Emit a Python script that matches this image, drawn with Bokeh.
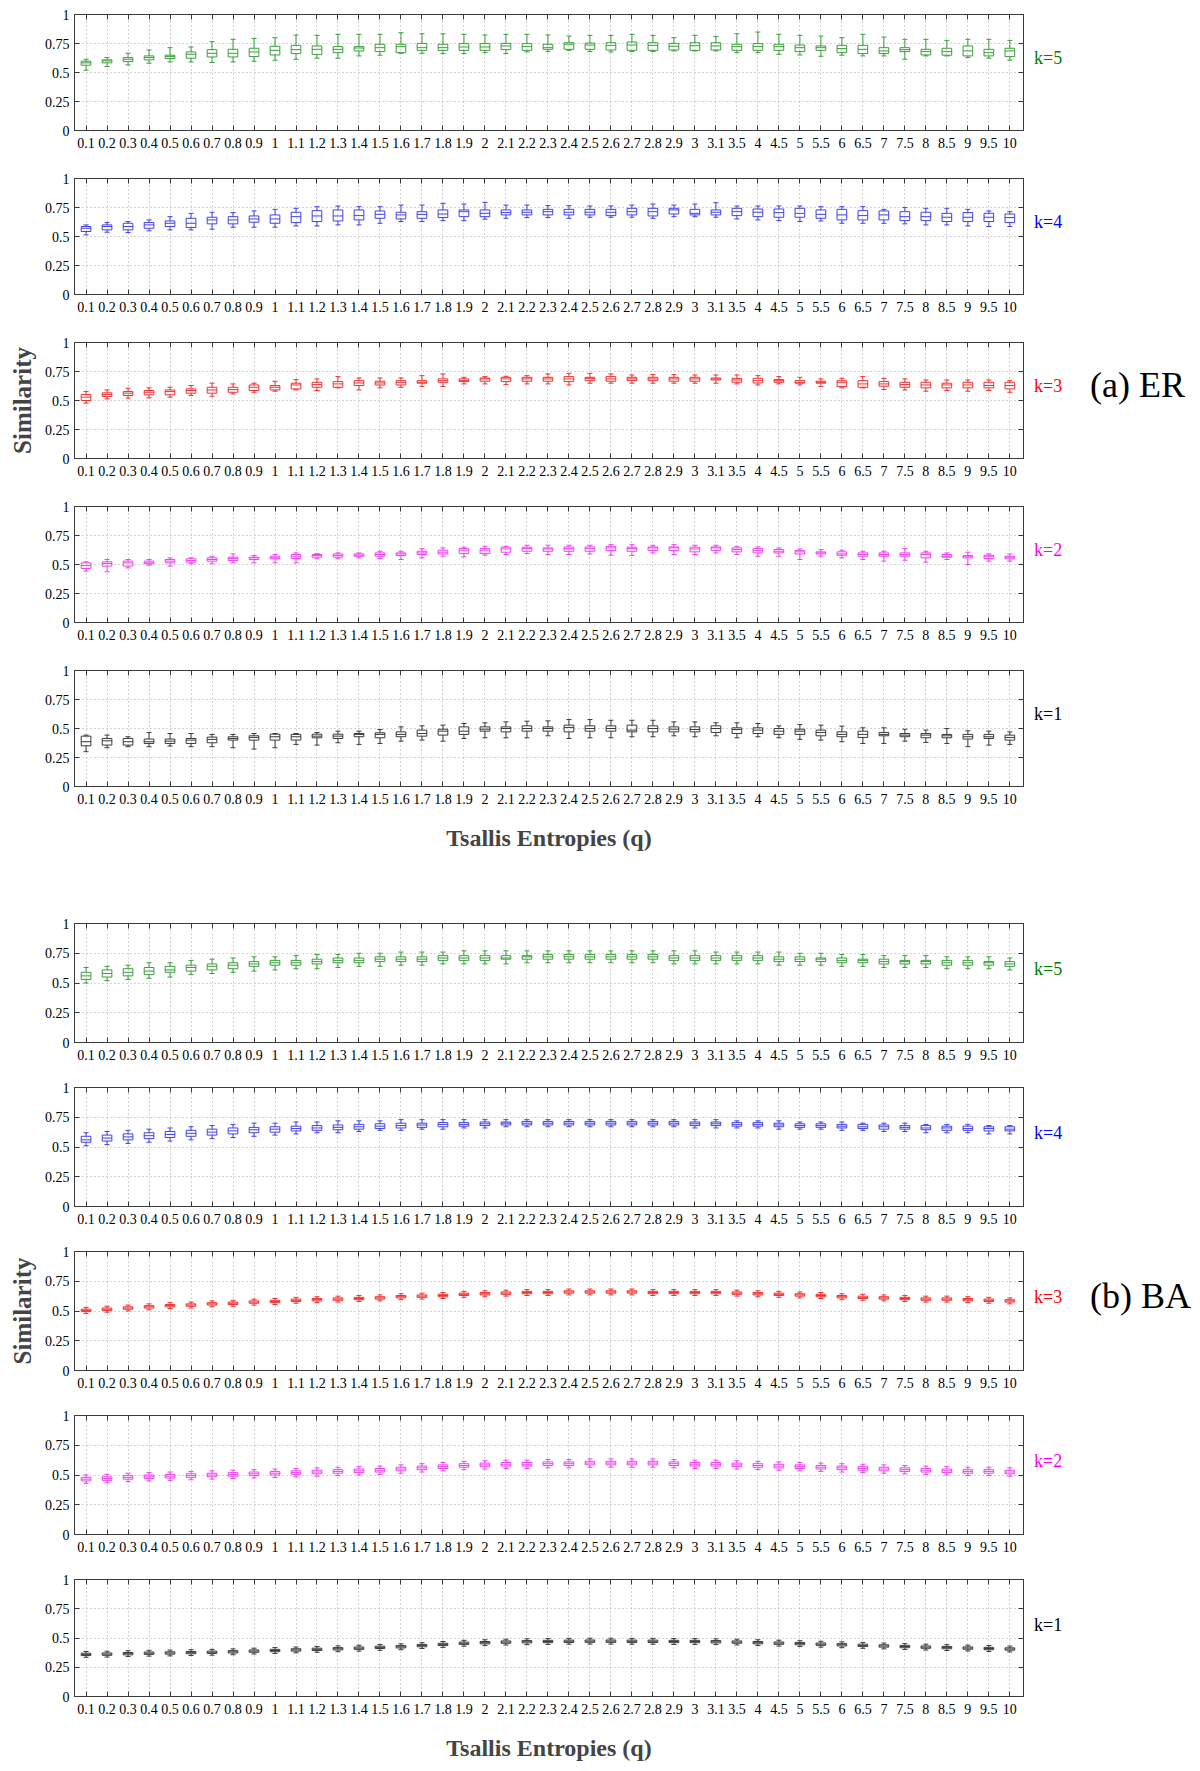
from bokeh.plotting import figure
from bokeh.layouts import column, row
from bokeh.models import Range1d, FixedTicker, LinearAxis, Div
from bokeh.embed import file_html
from bokeh.resources import INLINE

Q_LABELS = ["0.1", "0.2", "0.3", "0.4", "0.5", "0.6", "0.7", "0.8", "0.9", "1",
            "1.1", "1.2", "1.3", "1.4", "1.5", "1.6", "1.7", "1.8", "1.9", "2",
            "2.1", "2.2", "2.3", "2.4", "2.5", "2.6", "2.7", "2.8", "2.9", "3",
            "3.1", "3.5", "4", "4.5", "5", "5.5", "6", "6.5", "7", "7.5",
            "8", "8.5", "9", "9.5", "10"]

# ---------------- (a) ER ----------------
ER5_hi = [0.614,0.629,0.666,0.694,0.714,0.72,0.766,0.786,0.794,0.8, 0.823,0.82,0.829,0.829,0.829,0.843,0.834,0.834,0.829,0.823, 0.829,0.829,0.823,0.814,0.82, 0.82,0.829,0.82,0.8,0.82,0.811, 0.834,0.849,0.829,0.82,0.814,0.8,0.829,0.806,0.786,0.786,0.777,0.786,0.786,0.777]
ER5_q3 = [0.597,0.609,0.629,0.643,0.649,0.677,0.697,0.7,0.709,0.726, 0.734,0.729,0.723,0.723,0.743,0.743,0.751,0.743,0.749,0.749, 0.751,0.749,0.743,0.757,0.754, 0.757,0.763,0.757,0.751,0.757,0.757, 0.743,0.749,0.743,0.737,0.729,0.734,0.734,0.714,0.714,0.7,0.709,0.729,0.7,0.709]
ER5_med = [0.583,0.6,0.614,0.629,0.637,0.657,0.666,0.666,0.677,0.691, 0.697,0.7,0.7,0.711,0.714,0.723,0.714,0.714,0.72,0.72, 0.729,0.723,0.714,0.743,0.737, 0.734,0.737,0.734,0.726,0.731,0.729, 0.723,0.723,0.723,0.714,0.714,0.706,0.7,0.686,0.697,0.68,0.68,0.686,0.671,0.686]
ER5_q1 = [0.563,0.583,0.594,0.609,0.62,0.623,0.634,0.634,0.637,0.651, 0.663,0.654,0.671,0.686,0.68,0.671,0.691,0.691,0.691,0.691, 0.697,0.691,0.7,0.7,0.7, 0.694,0.691,0.691,0.694,0.691,0.694, 0.691,0.691,0.691,0.68,0.691,0.671,0.663,0.663,0.68,0.651,0.649,0.643,0.643,0.637]
ER5_lo = [0.52,0.551,0.566,0.58,0.591,0.591,0.586,0.591,0.597,0.606, 0.614,0.623,0.623,0.643,0.649,0.666,0.666,0.663,0.663,0.671, 0.663,0.677,0.68,0.691,0.68, 0.677,0.68,0.68,0.686,0.686,0.686, 0.671,0.671,0.657,0.651,0.64,0.649,0.643,0.643,0.614,0.643,0.643,0.629,0.623,0.606]

ER4_hi = [0.6,0.62,0.629,0.643,0.671,0.7,0.709,0.706,0.72,0.734, 0.743,0.757,0.763,0.757,0.757,0.771,0.771,0.786,0.78,0.794, 0.771,0.771,0.766,0.766,0.763, 0.763,0.771,0.78,0.771,0.78,0.791, 0.763,0.763,0.763,0.763,0.757,0.757,0.757,0.734,0.749,0.743,0.743,0.734,0.72,0.714]
ER4_q3 = [0.586,0.6,0.614,0.62,0.634,0.657,0.666,0.671,0.677,0.686, 0.709,0.723,0.729,0.729,0.72,0.709,0.714,0.729,0.729,0.729, 0.729,0.729,0.734,0.734,0.734, 0.734,0.743,0.743,0.743,0.734,0.729, 0.743,0.737,0.737,0.743,0.729,0.734,0.723,0.72,0.714,0.709,0.7,0.706,0.7,0.694]
ER4_med = [0.571,0.586,0.586,0.6,0.614,0.614,0.643,0.643,0.651,0.651, 0.671,0.677,0.677,0.68,0.691,0.686,0.691,0.694,0.714,0.7, 0.706,0.709,0.714,0.709,0.709, 0.709,0.714,0.714,0.729,0.7,0.709, 0.714,0.709,0.706,0.7,0.691,0.686,0.68,0.686,0.671,0.671,0.666,0.666,0.666,0.663]
ER4_q1 = [0.543,0.557,0.557,0.571,0.586,0.577,0.609,0.609,0.623,0.614, 0.62,0.629,0.634,0.643,0.657,0.651,0.657,0.663,0.671,0.671, 0.686,0.686,0.686,0.686,0.686, 0.68,0.686,0.677,0.694,0.686,0.686, 0.68,0.671,0.666,0.666,0.657,0.643,0.643,0.643,0.637,0.637,0.629,0.629,0.629,0.62]
ER4_lo = [0.514,0.537,0.534,0.549,0.557,0.557,0.563,0.58,0.58,0.58, 0.591,0.591,0.6,0.6,0.614,0.629,0.629,0.637,0.637,0.649, 0.657,0.663,0.663,0.657,0.666, 0.666,0.666,0.657,0.671,0.671,0.666, 0.651,0.643,0.637,0.629,0.634,0.614,0.614,0.614,0.609,0.6,0.6,0.591,0.586,0.586]

ER3_hi = [0.577,0.591,0.606,0.609,0.614,0.629,0.649,0.643,0.649,0.666, 0.68,0.686,0.706,0.694,0.694,0.694,0.714,0.729,0.7,0.706, 0.709,0.714,0.729,0.734,0.734, 0.729,0.72,0.723,0.723,0.72,0.72, 0.72,0.714,0.706,0.7,0.686,0.691,0.706,0.691,0.686,0.677,0.677,0.677,0.677,0.671]
ER3_q3 = [0.551,0.566,0.577,0.586,0.591,0.6,0.614,0.614,0.634,0.629, 0.649,0.657,0.663,0.671,0.666,0.671,0.671,0.686,0.686,0.694, 0.7,0.7,0.7,0.706,0.7, 0.706,0.7,0.7,0.7,0.7,0.694, 0.691,0.691,0.68,0.671,0.666,0.671,0.671,0.663,0.657,0.657,0.649,0.657,0.657,0.657]
ER3_med = [0.529,0.551,0.563,0.571,0.577,0.586,0.591,0.594,0.614,0.614, 0.634,0.637,0.643,0.651,0.651,0.657,0.657,0.671,0.671,0.686, 0.686,0.686,0.686,0.686,0.691, 0.686,0.686,0.686,0.686,0.686,0.686, 0.677,0.671,0.671,0.657,0.657,0.657,0.643,0.643,0.637,0.634,0.634,0.634,0.629,0.629]
ER3_q1 = [0.5,0.534,0.543,0.549,0.549,0.563,0.563,0.571,0.586,0.591, 0.6,0.614,0.614,0.629,0.634,0.634,0.649,0.657,0.663,0.666, 0.663,0.666,0.666,0.663,0.671, 0.666,0.671,0.671,0.666,0.666,0.677, 0.657,0.651,0.657,0.649,0.649,0.62,0.614,0.623,0.614,0.609,0.609,0.609,0.609,0.6]
ER3_lo = [0.477,0.514,0.52,0.523,0.529,0.543,0.537,0.557,0.571,0.58, 0.591,0.586,0.609,0.591,0.609,0.614,0.62,0.62,0.643,0.643, 0.637,0.643,0.643,0.634,0.649, 0.649,0.649,0.649,0.649,0.649,0.649, 0.643,0.634,0.643,0.634,0.62,0.609,0.609,0.594,0.591,0.58,0.586,0.58,0.586,0.571]

ER2_hi = [0.523,0.543,0.543,0.543,0.557,0.557,0.571,0.591,0.577,0.586, 0.6,0.594,0.6,0.6,0.614,0.614,0.637,0.643,0.649,0.657, 0.657,0.666,0.666,0.666,0.666, 0.671,0.671,0.666,0.671,0.666,0.666, 0.657,0.651,0.643,0.634,0.629,0.623,0.614,0.614,0.637,0.614,0.6,0.606,0.591,0.591]
ER2_q3 = [0.514,0.523,0.529,0.529,0.543,0.549,0.557,0.563,0.563,0.571, 0.586,0.586,0.591,0.591,0.6,0.6,0.614,0.623,0.637,0.637, 0.649,0.649,0.643,0.651,0.651, 0.657,0.649,0.651,0.651,0.649,0.651, 0.643,0.637,0.629,0.62,0.609,0.609,0.6,0.6,0.6,0.6,0.586,0.577,0.58,0.571]
ER2_med = [0.491,0.509,0.514,0.514,0.529,0.534,0.543,0.551,0.557,0.557, 0.571,0.577,0.577,0.58,0.586,0.591,0.6,0.606,0.623,0.623, 0.634,0.637,0.634,0.637,0.637, 0.643,0.637,0.643,0.643,0.634,0.643, 0.629,0.62,0.614,0.609,0.6,0.591,0.586,0.586,0.586,0.586,0.571,0.571,0.571,0.563]
ER2_q1 = [0.466,0.486,0.486,0.506,0.514,0.52,0.529,0.534,0.543,0.549, 0.551,0.563,0.563,0.571,0.571,0.577,0.586,0.591,0.594,0.594, 0.606,0.614,0.614,0.614,0.614, 0.62,0.614,0.62,0.62,0.609,0.62, 0.609,0.6,0.6,0.591,0.591,0.58,0.571,0.571,0.571,0.557,0.563,0.557,0.551,0.549]
ER2_lo = [0.443,0.437,0.471,0.494,0.486,0.506,0.506,0.514,0.514,0.514, 0.514,0.549,0.549,0.557,0.551,0.543,0.557,0.571,0.566,0.58, 0.586,0.594,0.586,0.586,0.591, 0.58,0.577,0.6,0.586,0.586,0.6, 0.586,0.571,0.571,0.543,0.571,0.557,0.543,0.529,0.537,0.52,0.543,0.5,0.529,0.529]

ER1_hi = [0.443,0.443,0.429,0.466,0.457,0.457,0.449,0.449,0.457,0.457, 0.457,0.466,0.477,0.477,0.491,0.514,0.523,0.529,0.543,0.549, 0.557,0.563,0.566,0.577,0.577, 0.571,0.571,0.571,0.557,0.557,0.549, 0.549,0.543,0.523,0.534,0.529,0.52,0.506,0.506,0.494,0.486,0.5,0.48,0.477,0.471]
ER1_q3 = [0.434,0.414,0.414,0.409,0.409,0.414,0.426,0.429,0.437,0.451, 0.449,0.451,0.451,0.457,0.463,0.471,0.486,0.494,0.514,0.514, 0.514,0.523,0.514,0.529,0.523, 0.523,0.529,0.523,0.514,0.514,0.523, 0.506,0.506,0.5,0.494,0.486,0.471,0.477,0.466,0.457,0.457,0.449,0.449,0.449,0.443]
ER1_med = [0.386,0.394,0.386,0.386,0.391,0.4,0.406,0.414,0.423,0.429, 0.429,0.434,0.434,0.449,0.449,0.449,0.457,0.477,0.477,0.494, 0.5,0.5,0.5,0.509,0.5, 0.5,0.486,0.5,0.494,0.491,0.5, 0.491,0.486,0.477,0.477,0.466,0.449,0.449,0.449,0.443,0.443,0.437,0.429,0.429,0.423]
ER1_q1 = [0.351,0.357,0.357,0.371,0.371,0.371,0.377,0.4,0.4,0.4, 0.4,0.42,0.414,0.429,0.42,0.429,0.434,0.443,0.449,0.477, 0.471,0.477,0.477,0.471,0.477, 0.477,0.471,0.471,0.471,0.471,0.466, 0.457,0.457,0.449,0.449,0.437,0.429,0.423,0.437,0.429,0.42,0.42,0.409,0.414,0.4]
ER1_lo = [0.3,0.334,0.343,0.343,0.349,0.343,0.343,0.334,0.323,0.334, 0.363,0.357,0.377,0.363,0.371,0.391,0.4,0.391,0.414,0.42, 0.42,0.42,0.437,0.414,0.42, 0.42,0.429,0.429,0.437,0.429,0.437, 0.42,0.429,0.42,0.406,0.4,0.386,0.371,0.371,0.391,0.38,0.371,0.343,0.357,0.363]

# ---------------- (b) BA ----------------
BA5_hi = [0.63,0.64,0.65,0.67,0.67,0.69,0.70,0.71,0.72,0.72, 0.73,0.74,0.74,0.75,0.75,0.76,0.76,0.76,0.77,0.77, 0.77,0.77,0.77,0.77,0.77, 0.77,0.77,0.77,0.77,0.77,0.76, 0.76,0.76,0.76,0.75,0.75,0.74,0.74,0.73,0.73,0.73,0.72,0.72,0.72,0.71]
BA5_q3 = [0.59,0.61,0.62,0.63,0.64,0.65,0.66,0.67,0.68,0.69, 0.69,0.70,0.71,0.71,0.72,0.72,0.72,0.73,0.73,0.73, 0.73,0.73,0.74,0.74,0.74, 0.74,0.74,0.74,0.73,0.73,0.73, 0.73,0.73,0.72,0.72,0.71,0.71,0.70,0.70,0.69,0.69,0.69,0.69,0.68,0.68]
BA5_med = [0.56,0.58,0.59,0.60,0.61,0.63,0.64,0.65,0.66,0.67, 0.67,0.68,0.69,0.69,0.70,0.70,0.70,0.71,0.71,0.71, 0.71,0.72,0.72,0.72,0.72, 0.72,0.72,0.72,0.71,0.71,0.71, 0.71,0.71,0.70,0.70,0.70,0.69,0.69,0.68,0.68,0.68,0.67,0.67,0.67,0.66]
BA5_q1 = [0.53,0.55,0.56,0.57,0.59,0.60,0.61,0.62,0.64,0.65, 0.65,0.66,0.67,0.67,0.68,0.68,0.68,0.69,0.69,0.69, 0.70,0.70,0.70,0.70,0.70, 0.70,0.70,0.70,0.69,0.69,0.69, 0.69,0.69,0.68,0.68,0.68,0.67,0.67,0.66,0.66,0.66,0.65,0.65,0.65,0.64]
BA5_lo = [0.50,0.52,0.53,0.54,0.55,0.57,0.58,0.59,0.60,0.61, 0.62,0.62,0.63,0.64,0.64,0.65,0.65,0.66,0.66,0.66, 0.66,0.67,0.67,0.67,0.67, 0.67,0.67,0.67,0.66,0.66,0.66, 0.66,0.66,0.65,0.65,0.65,0.64,0.64,0.63,0.63,0.63,0.62,0.62,0.62,0.61]

BA4_hi = [0.62,0.63,0.64,0.65,0.66,0.67,0.68,0.69,0.70,0.70, 0.71,0.71,0.72,0.72,0.72,0.73,0.73,0.73,0.73,0.73, 0.73,0.73,0.73,0.73,0.73, 0.73,0.73,0.73,0.73,0.73,0.73, 0.72,0.72,0.72,0.71,0.71,0.71,0.70,0.70,0.70,0.69,0.69,0.69,0.68,0.68]
BA4_q3 = [0.59,0.60,0.61,0.62,0.63,0.64,0.65,0.66,0.665,0.67, 0.675,0.68,0.685,0.69,0.695,0.70,0.70,0.705,0.705,0.71, 0.71,0.715,0.715,0.715,0.715, 0.715,0.715,0.715,0.715,0.71,0.71, 0.705,0.705,0.70,0.695,0.695,0.69,0.69,0.685,0.68,0.68,0.675,0.675,0.67,0.67]
BA4_med = [0.56,0.575,0.585,0.595,0.605,0.615,0.625,0.635,0.645,0.65, 0.655,0.66,0.665,0.67,0.675,0.68,0.685,0.69,0.69,0.695, 0.70,0.70,0.70,0.70,0.70, 0.70,0.70,0.70,0.70,0.695,0.695, 0.69,0.69,0.685,0.68,0.68,0.675,0.67,0.67,0.665,0.66,0.66,0.655,0.655,0.65]
BA4_q1 = [0.54,0.55,0.56,0.57,0.58,0.59,0.60,0.61,0.62,0.625, 0.635,0.64,0.645,0.65,0.655,0.66,0.665,0.67,0.675,0.68, 0.685,0.685,0.685,0.685,0.685, 0.685,0.685,0.685,0.685,0.68,0.68, 0.675,0.675,0.67,0.665,0.665,0.66,0.655,0.65,0.65,0.645,0.64,0.64,0.635,0.635]
BA4_lo = [0.51,0.52,0.53,0.54,0.55,0.56,0.57,0.58,0.59,0.60, 0.61,0.62,0.62,0.63,0.64,0.64,0.65,0.65,0.66,0.66, 0.67,0.67,0.67,0.67,0.67, 0.67,0.67,0.67,0.67,0.66,0.66, 0.66,0.66,0.65,0.65,0.65,0.64,0.64,0.63,0.63,0.62,0.62,0.62,0.61,0.61]

BA3_hi = [0.53,0.54,0.55,0.56,0.57,0.575,0.585,0.59,0.60,0.605, 0.615,0.62,0.625,0.63,0.635,0.645,0.65,0.655,0.665,0.67, 0.675,0.68,0.68,0.685,0.685, 0.685,0.685,0.68,0.68,0.68,0.68, 0.675,0.67,0.665,0.66,0.655,0.645,0.64,0.635,0.63,0.625,0.625,0.62,0.615,0.61]
BA3_q3 = [0.515,0.525,0.535,0.545,0.555,0.56,0.57,0.575,0.585,0.59, 0.60,0.605,0.61,0.615,0.62,0.63,0.635,0.64,0.65,0.655, 0.66,0.665,0.665,0.67,0.67, 0.67,0.67,0.665,0.665,0.665,0.665, 0.66,0.655,0.65,0.645,0.64,0.63,0.625,0.62,0.615,0.61,0.61,0.605,0.60,0.595]
BA3_med = [0.505,0.515,0.525,0.535,0.545,0.55,0.56,0.565,0.575,0.58, 0.59,0.595,0.60,0.605,0.61,0.62,0.625,0.63,0.64,0.645, 0.65,0.655,0.655,0.66,0.66, 0.66,0.66,0.655,0.655,0.655,0.655, 0.65,0.645,0.64,0.635,0.63,0.62,0.615,0.61,0.605,0.60,0.60,0.595,0.59,0.585]
BA3_q1 = [0.495,0.505,0.515,0.525,0.535,0.54,0.55,0.555,0.565,0.57, 0.58,0.585,0.59,0.595,0.60,0.61,0.615,0.62,0.63,0.635, 0.64,0.645,0.645,0.65,0.65, 0.65,0.65,0.645,0.645,0.645,0.645, 0.64,0.635,0.63,0.625,0.62,0.61,0.605,0.60,0.595,0.59,0.59,0.585,0.58,0.575]
BA3_lo = [0.48,0.49,0.50,0.51,0.52,0.525,0.535,0.54,0.55,0.555, 0.565,0.57,0.575,0.58,0.585,0.595,0.60,0.605,0.615,0.62, 0.625,0.63,0.63,0.635,0.635, 0.635,0.635,0.63,0.63,0.63,0.63, 0.625,0.62,0.615,0.61,0.605,0.595,0.59,0.585,0.58,0.575,0.575,0.57,0.565,0.56]

BA2_hi = [0.50,0.505,0.515,0.52,0.525,0.53,0.535,0.54,0.545,0.55, 0.555,0.56,0.565,0.57,0.575,0.585,0.595,0.605,0.615,0.62, 0.625,0.625,0.63,0.63,0.635, 0.635,0.635,0.635,0.63,0.625,0.625, 0.62,0.615,0.61,0.605,0.60,0.595,0.59,0.585,0.58,0.575,0.57,0.565,0.565,0.56]
BA2_q3 = [0.48,0.485,0.495,0.50,0.505,0.51,0.515,0.52,0.525,0.53, 0.535,0.54,0.545,0.55,0.555,0.565,0.575,0.585,0.595,0.60, 0.605,0.605,0.61,0.61,0.615, 0.615,0.615,0.615,0.61,0.605,0.605, 0.60,0.595,0.59,0.585,0.58,0.575,0.57,0.565,0.56,0.555,0.55,0.545,0.545,0.54]
BA2_med = [0.465,0.47,0.48,0.485,0.49,0.495,0.50,0.505,0.51,0.515, 0.52,0.525,0.53,0.535,0.54,0.55,0.56,0.57,0.58,0.585, 0.59,0.59,0.595,0.595,0.60, 0.60,0.60,0.60,0.595,0.59,0.59, 0.585,0.58,0.575,0.57,0.565,0.56,0.555,0.55,0.545,0.54,0.535,0.53,0.53,0.525]
BA2_q1 = [0.45,0.455,0.465,0.47,0.475,0.48,0.485,0.49,0.495,0.50, 0.505,0.51,0.515,0.52,0.525,0.535,0.545,0.555,0.565,0.57, 0.575,0.575,0.58,0.58,0.585, 0.585,0.585,0.585,0.58,0.575,0.575, 0.57,0.565,0.56,0.555,0.55,0.545,0.54,0.535,0.53,0.525,0.52,0.515,0.515,0.51]
BA2_lo = [0.43,0.435,0.445,0.45,0.455,0.46,0.465,0.47,0.475,0.48, 0.485,0.49,0.495,0.50,0.505,0.515,0.525,0.535,0.545,0.55, 0.555,0.555,0.56,0.56,0.565, 0.565,0.565,0.565,0.56,0.555,0.555, 0.55,0.545,0.54,0.535,0.53,0.525,0.52,0.515,0.51,0.505,0.50,0.495,0.495,0.49]

BA1_hi = [0.385,0.387,0.391,0.395,0.397,0.40,0.403,0.407,0.413,0.418, 0.423,0.428,0.433,0.438,0.445,0.45,0.46,0.47,0.48,0.485, 0.49,0.493,0.495,0.497,0.498, 0.498,0.497,0.497,0.495,0.495,0.493, 0.49,0.485,0.481,0.477,0.472,0.467,0.462,0.457,0.452,0.447,0.443,0.439,0.435,0.431]
BA1_q3 = [0.37,0.372,0.376,0.38,0.382,0.385,0.388,0.392,0.398,0.403, 0.408,0.413,0.418,0.423,0.43,0.435,0.445,0.455,0.465,0.47, 0.475,0.478,0.48,0.482,0.483, 0.483,0.482,0.482,0.48,0.48,0.478, 0.475,0.47,0.466,0.462,0.457,0.452,0.447,0.442,0.437,0.432,0.428,0.424,0.42,0.416]
BA1_med = [0.36,0.362,0.366,0.37,0.372,0.375,0.378,0.382,0.388,0.393, 0.398,0.403,0.408,0.413,0.42,0.425,0.435,0.445,0.455,0.46, 0.465,0.468,0.47,0.472,0.473, 0.473,0.472,0.472,0.47,0.47,0.468, 0.465,0.46,0.456,0.452,0.447,0.442,0.437,0.432,0.427,0.422,0.418,0.414,0.41,0.406]
BA1_q1 = [0.35,0.352,0.356,0.36,0.362,0.365,0.368,0.372,0.378,0.383, 0.388,0.393,0.398,0.403,0.41,0.415,0.425,0.435,0.445,0.45, 0.455,0.458,0.46,0.462,0.463, 0.463,0.462,0.462,0.46,0.46,0.458, 0.455,0.45,0.446,0.442,0.437,0.432,0.427,0.422,0.417,0.412,0.408,0.404,0.40,0.396]
BA1_lo = [0.335,0.337,0.341,0.345,0.347,0.35,0.353,0.357,0.363,0.368, 0.373,0.378,0.383,0.388,0.395,0.40,0.41,0.42,0.43,0.435, 0.44,0.443,0.445,0.447,0.448, 0.448,0.447,0.447,0.445,0.445,0.443, 0.44,0.435,0.431,0.427,0.422,0.417,0.412,0.407,0.402,0.397,0.393,0.389,0.385,0.381]

K_LABELS = ["k=5", "k=4", "k=3", "k=2", "k=1"]
K_COLORS = ["#008000", "#0000ff", "#ff0000", "#ff00ff", "#000000"]
BOX_COLORS = ["#3a9e3a", "#4040e6", "#f03030", "#f040f0", "#3a3a3a"]
Y_TICKS = [0, 0.25, 0.5, 0.75, 1]
Y_TICK_LABELS = {0: "0", 0.25: "0.25", 0.5: "0.5", 0.75: "0.75", 1: "1"}

FONT = "Liberation Serif"
FIG_W = 1030
SIDE_W = 154
XS = list(range(1, len(Q_LABELS) + 1))
AX_COLOR = "#3a3a3a"

ER = [(ER5_lo, ER5_q1, ER5_med, ER5_q3, ER5_hi), (ER4_lo, ER4_q1, ER4_med, ER4_q3, ER4_hi),
      (ER3_lo, ER3_q1, ER3_med, ER3_q3, ER3_hi), (ER2_lo, ER2_q1, ER2_med, ER2_q3, ER2_hi),
      (ER1_lo, ER1_q1, ER1_med, ER1_q3, ER1_hi)]
BA = [(BA5_lo, BA5_q1, BA5_med, BA5_q3, BA5_hi), (BA4_lo, BA4_q1, BA4_med, BA4_q3, BA4_hi),
      (BA3_lo, BA3_q1, BA3_med, BA3_q3, BA3_hi), (BA2_lo, BA2_q1, BA2_med, BA2_q3, BA2_hi),
      (BA1_lo, BA1_q1, BA1_med, BA1_q3, BA1_hi)]


def labelled_axis(ax):
    ax.axis_line_color = AX_COLOR
    ax.major_tick_line_color = AX_COLOR
    ax.major_tick_in = 5
    ax.major_tick_out = 0
    ax.minor_tick_line_color = None
    ax.major_label_text_font = FONT
    ax.major_label_text_font_size = "14px"
    ax.major_label_text_color = "black"


def tick_only_axis(ax):
    ax.axis_line_color = AX_COLOR
    ax.major_tick_line_color = None
    ax.minor_tick_line_color = AX_COLOR
    ax.minor_tick_in = 5
    ax.minor_tick_out = 0
    ax.major_label_standoff = 0


def side_div(height, label_y, idx, tag=None):
    k_html = ('<div style="position:absolute;left:4px;top:%dpx;font-family:\'Liberation Serif\',serif;'
              'font-size:18px;line-height:22px;color:%s;white-space:nowrap;">%s</div>'
              % (label_y - 11, K_COLORS[idx], K_LABELS[idx]))
    tag_html = ""
    if tag:
        tag_html = ('<div style="position:absolute;left:60px;top:%dpx;font-family:\'Liberation Serif\',serif;'
                    'font-size:36px;line-height:40px;color:black;white-space:nowrap;">%s</div>'
                    % (label_y - 21, tag))
    html = ('<div style="position:relative;width:%dpx;height:%dpx;">%s%s</div>'
            % (SIDE_W, height, k_html, tag_html))
    return Div(text=html, width=SIDE_W, height=height, margin=(0, 0, 0, 0))


def make_panel(stats, idx, height, frame_h, top_b, xlabel=False, ylabel=False):
    lo, q1, med, q3, hi = stats
    bottom_b = height - top_b - frame_h
    p = figure(width=FIG_W, height=height, output_backend="svg", toolbar_location=None,
               x_range=Range1d(0.45, 45.65), y_range=Range1d(0, 1),
               min_border_left=74, min_border_right=7, min_border_top=top_b,
               min_border_bottom=bottom_b, x_axis_location=None, y_axis_location=None)
    p.outline_line_color = AX_COLOR
    p.background_fill_color = "white"
    p.border_fill_color = "white"

    xb = LinearAxis(ticker=FixedTicker(ticks=XS),
                    major_label_overrides={i + 1: s for i, s in enumerate(Q_LABELS)})
    labelled_axis(xb)
    xb.major_label_standoff = 7
    if xlabel:
        xb.axis_label = "Tsallis Entropies (q)"
        xb.axis_label_text_font = FONT
        xb.axis_label_text_font_size = "24px"
        xb.axis_label_text_font_style = "bold"
        xb.axis_label_standoff = 18
    p.add_layout(xb, "below")
    xt = LinearAxis(ticker=FixedTicker(ticks=[], minor_ticks=XS))
    tick_only_axis(xt)
    p.add_layout(xt, "above")

    yl = LinearAxis(ticker=FixedTicker(ticks=Y_TICKS), major_label_overrides=Y_TICK_LABELS)
    labelled_axis(yl)
    yl.major_label_standoff = 5
    if ylabel:
        yl.axis_label = "Similarity"
        yl.axis_label_text_font = FONT
        yl.axis_label_text_font_size = "25px"
        yl.axis_label_text_font_style = "bold"
        yl.axis_label_standoff = 6
    p.add_layout(yl, "left")

    yr = LinearAxis(ticker=FixedTicker(ticks=[], minor_ticks=Y_TICKS))
    tick_only_axis(yr)
    p.add_layout(yr, "right")

    p.xgrid.ticker = FixedTicker(ticks=XS)
    p.ygrid.ticker = FixedTicker(ticks=Y_TICKS)
    for g in (p.xgrid, p.ygrid):
        g.grid_line_color = "#a8a8a8"
        g.grid_line_dash = "1 3"
        g.grid_line_width = 1

    col = BOX_COLORS[idx]
    hw, cw = 0.23, 0.12
    left = [x - hw for x in XS]
    right = [x + hw for x in XS]
    cl = [x - cw for x in XS]
    cr = [x + cw for x in XS]
    p.segment(x0=XS, y0=q3, x1=XS, y1=hi, line_color=col, line_width=1)
    p.segment(x0=XS, y0=lo, x1=XS, y1=q1, line_color=col, line_width=1)
    p.segment(x0=cl, y0=hi, x1=cr, y1=hi, line_color=col, line_width=1)
    p.segment(x0=cl, y0=lo, x1=cr, y1=lo, line_color=col, line_width=1)
    p.quad(left=left, right=right, bottom=q1, top=q3, fill_color=None, line_color=col, line_width=1)
    p.segment(x0=left, y0=med, x1=right, y1=med, line_color=col, line_width=1)
    return p


rows = []
for i, st in enumerate(ER):
    top_b = 14 if i == 0 else 6
    h = 253 if i == 4 else 164 + (top_b - 6)
    p = make_panel(st, i, h, 116, top_b, xlabel=(i == 4), ylabel=(i == 2))
    d = side_div(h, top_b + 44, i, tag="(a) ER" if i == 2 else None)
    rows.append(row(p, d, spacing=0))
for i, st in enumerate(BA):
    h = 190 if i == 4 else 164
    p = make_panel(st, i, h, 119, 6, xlabel=(i == 4), ylabel=(i == 2))
    d = side_div(h, 6 + 46, i, tag="(b) BA" if i == 2 else None)
    rows.append(row(p, d, spacing=0))

layout = column(*rows, spacing=0)
open("out.html", "w").write(file_html(layout, INLINE))
